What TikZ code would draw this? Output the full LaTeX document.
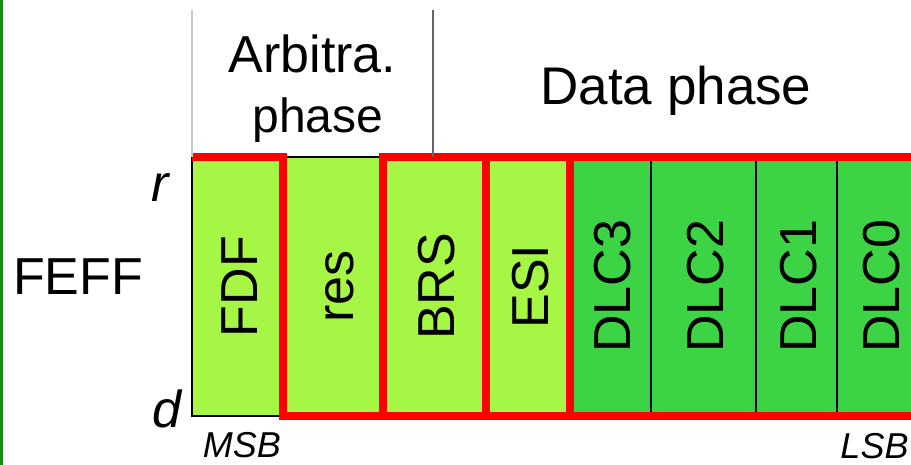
\documentclass[tikz,border=0pt]{standalone}
\usepackage{fontspec}
\setmainfont{Liberation Sans}
\definecolor{lightcell}{RGB}{166,246,69}
\definecolor{darkcell}{RGB}{60,212,68}
\definecolor{edgegreen}{RGB}{20,140,20}
\definecolor{hilite}{RGB}{255,0,0}
\begin{document}
\begin{tikzpicture}[x=1pt,y=-1pt,
  cell/.style={rectangle, draw=black, line width=1.4pt, inner sep=0pt, outer sep=0pt,
    minimum height=259pt},
  lightbit/.style={cell, fill=lightcell},
  darkbit/.style={cell, fill=darkcell},
  bitname/.style={rotate=90, anchor=base, inner sep=0pt, font=\fontsize{52}{60}\selectfont},
  bigtext/.style={anchor=base, inner sep=0pt, font=\fontsize{52}{60}\selectfont},
  edgetext/.style={anchor=base, inner sep=0pt, font=\fontsize{52}{60}\selectfont\itshape},
  endtext/.style={anchor=base, inner sep=0pt, font=\fontsize{36}{42}\selectfont\itshape},
  redline/.style={draw=hilite, line width=7.5pt, line join=miter},
  divider/.style={line width=1.3pt}]
\useasboundingbox (0,0) rectangle (911,465);

% left margin rule
\draw[edgegreen, line width=3pt] (1.5,0) -- (1.5,465);

% bit cells
\node[lightbit, minimum width=91pt]  (fdf)  at (237.5,286.5) {};
\node[lightbit, minimum width=100pt] (res)  at (333,286.5) {};
\node[lightbit, minimum width=103pt] (brs)  at (434.5,286.5) {};
\node[lightbit, minimum width=84pt]  (esi)  at (528,286.5) {};
\node[darkbit,  minimum width=81pt]  (dlc3) at (610.5,286.5) {};
\node[darkbit,  minimum width=105pt] (dlc2) at (703.5,286.5) {};
\node[darkbit,  minimum width=81pt]  (dlc1) at (796.5,286.5) {};
\node[darkbit,  minimum width=93pt]  (dlc0) at (883.5,286.5) {};

% bit names, baseline a little right of each cell's middle
\node[bitname] (tfdf)  at ([xshift=20pt]fdf.center)  {FDF};
\node[bitname] (tres)  at ([xshift=20pt]res.center)  {res};
\node[bitname] (tbrs)  at ([xshift=20pt]brs.center)  {BRS};
\node[bitname] (tesi)  at ([xshift=20pt]esi.center)  {ESI};
\node[bitname] (tdlc3) at ([xshift=20pt]dlc3.center) {DLC3};
\node[bitname] (tdlc2) at ([xshift=20pt]dlc2.center) {DLC2};
\node[bitname] (tdlc1) at ([xshift=20pt]dlc1.center) {DLC1};
\node[bitname] (tdlc0) at ([xshift=15.5pt]dlc0.center) {DLC0};

% highlighted bit borders
\draw[redline] (fdf.north west) -- (fdf.north east) -- (fdf.south east) -- (dlc0.south east);
\draw[redline] (res.south east) -- (res.north east) -- (dlc0.north east);
\draw[redline] (brs.south east) -- (brs.north east);
\draw[redline] (esi.south east) -- (esi.north east);

% phase dividers
\coordinate (arbtop) at (192,10);
\coordinate (datatop) at (433,10);
\coordinate (databot) at (433,157);
\draw[divider, gray!45] (fdf.north west) -- (arbtop);
\draw[divider, gray!80!black] (databot) -- (datatop);

% phase titles
\node[bigtext] (arb1) at (312.5,73) {Arbitra.};
\node[bigtext, font=\fontsize{48}{56}\selectfont] (arb2) at (318,133) {phase};
\node[bigtext, font=\fontsize{53}{60}\selectfont] (data) at (676,105) {Data phase};

% side labels
\node[bigtext] (feff) at (78,295) {FEFF};
\node[edgetext] (rlev) at (160,202) {r};
\node[edgetext] (dlev) at (167,427) {d};
\node[endtext] (msb) at (242,457) {MSB};
\node[endtext] (lsb) at (874.5,458.5) {LSB};
\end{tikzpicture}
\end{document}
